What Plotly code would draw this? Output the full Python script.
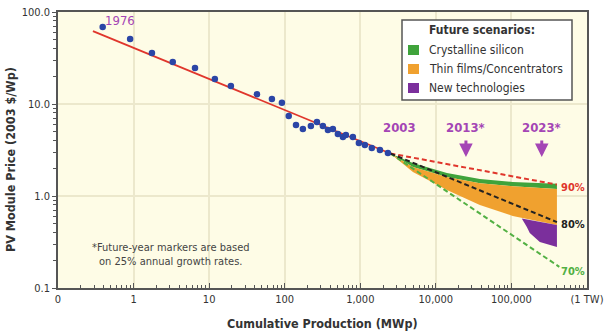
import math
import plotly.graph_objects as go

# Historical module prices, 1976-2003
hist_mwp = [0.39, 0.9, 1.75, 3.3, 6.5, 11.9, 19.4, 42.9, 67.7, 91.8, 113, 141, 174, 222,
            267, 320, 373, 434, 505, 589, 645, 798, 958, 1150, 1420, 1820, 2320]
hist_price = [68.7, 50.9, 35.8, 28.6, 24.6, 18.7, 15.7, 12.8, 11.3, 10.3, 7.4, 5.9, 5.35, 5.77,
              6.37, 5.77, 5.21, 5.35, 4.72, 4.38, 4.6, 4.38, 3.77, 3.58, 3.32, 3.16, 2.93]

# 80% experience-curve fit through the historical data
fit_mwp = [0.29, 2500]
fit_price = [62, 2.9]

# Future experience-curve scenarios (progress ratios)
pr90_mwp, pr90_price = [2500, 400000], [2.9, 1.33]
pr80_mwp, pr80_price = [2500, 400000], [2.9, 0.52]
pr70_mwp, pr70_price = [2500, 430000], [2.9, 0.17]

# Technology bands
band_mwp = [2500, 4970, 14000, 38200, 104000, 400000]
csi_top = [2.9, 2.28, 1.78, 1.53, 1.42, 1.36]
thin_top = [2.9, 2.07, 1.61, 1.38, 1.28, 1.19]
thin_bottom = [2.9, 1.82, 1.16, 0.80, 0.607, 0.484]
newtech_mwp = [137000, 400000, 400000, 237600, 175000, 160000, 137000]
newtech_price = [0.57, 0.484, 0.279, 0.316, 0.396, 0.46, 0.57]

x_tickvals = [0.1, 1, 10, 100, 1000, 10000, 100000, 1000000]
x_ticktext = ["0", "1", "10", "100", "1,000", "10,000", "100,000", "(1 TW)"]
y_tickvals = [0.1, 1, 10, 100]
y_ticktext = ["0.1", "1.0", "10.0", "100.0"]

scenario_names = ["Crystalline silicon", "Thin films/Concentrators", "New technologies"]
scenario_colors = ["#3FA33B", "#F0A12F", "#7B2F9C"]

FONT = "Liberation Sans Narrow, Arial Narrow, DejaVu Sans Condensed, sans-serif"
PURPLE = "#A445B5"
RED = "#E0362C"
GREEN_LINE = "#52B043"
AXIS = "#555555"

fig = go.Figure()

# bands
fig.add_trace(go.Scatter(x=band_mwp + band_mwp[::-1], y=csi_top + thin_top[::-1],
                         fill="toself", fillcolor=scenario_colors[0], mode="none",
                         showlegend=False, hoverinfo="skip"))
fig.add_trace(go.Scatter(x=band_mwp + band_mwp[::-1], y=thin_top + thin_bottom[::-1],
                         fill="toself", fillcolor=scenario_colors[1], mode="none",
                         showlegend=False, hoverinfo="skip"))
fig.add_trace(go.Scatter(x=newtech_mwp, y=newtech_price,
                         fill="toself", fillcolor=scenario_colors[2], mode="none",
                         showlegend=False, hoverinfo="skip"))

# scenario lines
fig.add_trace(go.Scatter(x=pr70_mwp, y=pr70_price, mode="lines",
                         line=dict(color=GREEN_LINE, width=2, dash="5px,3px"), showlegend=False))
fig.add_trace(go.Scatter(x=pr90_mwp, y=pr90_price, mode="lines",
                         line=dict(color=RED, width=2, dash="5px,3px"), showlegend=False))
fig.add_trace(go.Scatter(x=pr80_mwp, y=pr80_price, mode="lines",
                         line=dict(color="#222222", width=2, dash="5px,3px"), showlegend=False))

# historical fit + data
fig.add_trace(go.Scatter(x=fit_mwp, y=fit_price, mode="lines",
                         line=dict(color=RED, width=1.8), showlegend=False))
fig.add_trace(go.Scatter(x=hist_mwp, y=hist_price, mode="markers",
                         marker=dict(color="#2B45A6", size=6.5), showlegend=False))

# minor tick positions for the log axes
def minor_ticks(lo, hi):
    vals = []
    for e in range(lo, hi):
        for d in range(2, 10):
            vals.append(d * 10 ** e)
    return vals

fig.update_xaxes(type="log", range=[-1, 6], tickvals=x_tickvals, ticktext=x_ticktext,
                 automargin=False,
                 ticks="inside", ticklen=5, tickcolor=AXIS, tickwidth=1,
                 showline=True, mirror=True, linecolor=AXIS, linewidth=1.5,
                 showgrid=True, gridcolor="#ECE8CC", gridwidth=2, zeroline=False,
                 tickfont=dict(family=FONT, size=11, color="#333333"),
                 minor=dict(tickvals=minor_ticks(-1, 6), ticks="inside", ticklen=3,
                            tickcolor=AXIS, showgrid=False))
fig.update_yaxes(type="log", range=[-1, 2], tickvals=y_tickvals, ticktext=y_ticktext,
                 automargin=False,
                 ticks="outside", ticklen=4, tickcolor=AXIS, tickwidth=1,
                 showline=True, mirror=True, linecolor=AXIS, linewidth=1.5,
                 showgrid=True, gridcolor="#ECE8CC", gridwidth=2, zeroline=False,
                 tickfont=dict(family=FONT, size=11, color="#333333"),
                 minor=dict(tickvals=minor_ticks(-1, 2), ticks="outside", ticklen=3,
                            tickcolor=AXIS, showgrid=False))

ann = []
def data_text(x, y, text, color, size=12, bold=False, **kw):
    t = f"<b>{text}</b>" if bold else text
    ann.append(dict(x=math.log10(x), y=math.log10(y), xref="x", yref="y", text=t,
                    showarrow=False, font=dict(family=FONT, size=size, color=color), **kw))

data_text(0.66, 80, "1976", PURPLE, size=13)
data_text(3340, 5.5, "2003", PURPLE, size=13, bold=True)
data_text(25000, 5.5, "2013*", PURPLE, size=13, bold=True)
data_text(252000, 5.5, "2023*", PURPLE, size=13, bold=True)
data_text(650000, 1.25, "90%", RED, size=11, bold=True)
data_text(650000, 0.496, "80%", "#222222", size=11, bold=True)
data_text(650000, 0.153, "70%", GREEN_LINE, size=11, bold=True)
data_text(3.13, 0.229, "*Future-year markers are based<br>on 25% annual growth rates.",
          "#444444", size=11)

# year arrows
for xv in [25000, 252000]:
    ann.append(dict(x=math.log10(xv), y=math.log10(2.65), xref="x", yref="y", text="",
                    showarrow=True, ax=0, ay=-18, arrowhead=2, arrowsize=0.9,
                    arrowwidth=3, arrowcolor=PURPLE, standoff=0))

# axis titles
ann.append(dict(x=0.5, y=0, xref="paper", yref="paper", yshift=-35, yanchor="middle",
                text="<b>Cumulative Production (MWp)</b>", showarrow=False,
                font=dict(family=FONT, size=12.5, color="#333333")))
ann.append(dict(x=0, y=0.5, xref="paper", yref="paper", xshift=-48, yshift=-10,
                xanchor="center", textangle=-90,
                text="<b>PV Module Price (2003 $/Wp)</b>", showarrow=False,
                font=dict(family=FONT, size=12.5, color="#333333")))

# legend box, built in pixel space
W, H = 605, 334
L, R, T, B = 58, 18, 12, 46
PW, PH = W - L - R, H - T - B
def px(xp):
    return (xp - L) / PW
def py(yp):
    return (H - B - yp) / PH

shapes = [dict(type="rect", xref="paper", yref="paper", x0=px(402), x1=px(572),
               y0=py(100), y1=py(20), fillcolor="white", line=dict(color="#555555", width=1.5))]
ann.append(dict(x=px(427), y=py(30), xref="paper", yref="paper", xanchor="left",
                yanchor="middle", text="<b>Future scenarios:</b>", showarrow=False,
                font=dict(family=FONT, size=12, color="#333333")))
for i, (name, col) in enumerate(zip(scenario_names, scenario_colors)):
    yc = 50 + 19 * i
    shapes.append(dict(type="rect", xref="paper", yref="paper", x0=px(408), x1=px(419),
                       y0=py(yc + 5), y1=py(yc - 5), fillcolor=col, line=dict(width=0)))
    ann.append(dict(x=px(427), y=py(yc), xref="paper", yref="paper", xanchor="left",
                    yanchor="middle", text=name, showarrow=False,
                    font=dict(family=FONT, size=12, color="#333333")))

fig.update_layout(width=W, height=H, margin=dict(l=L, r=R, t=T, b=B, autoexpand=False),
                  paper_bgcolor="white", plot_bgcolor="#FEFCE6",
                  annotations=ann, shapes=shapes, showlegend=False)

fig.write_html("out.html")
